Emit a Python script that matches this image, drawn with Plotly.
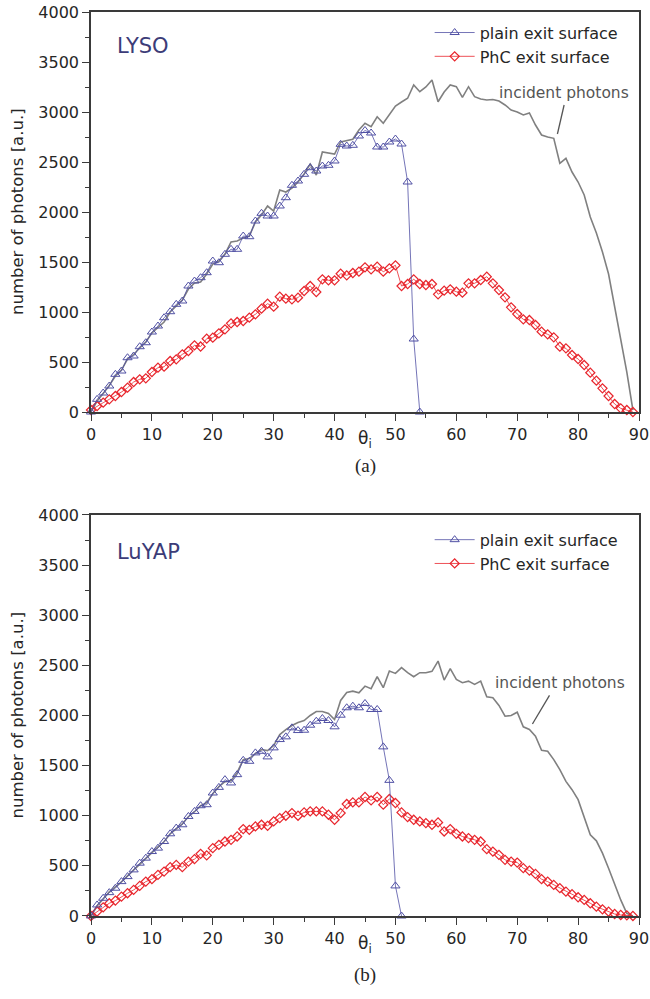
import plotly.graph_objects as go

# ---------------- data ----------------
theta_all = list(range(0, 90))

# (a) LYSO
lyso_incident = [0, 110, 185, 265, 360, 420, 530, 575, 640, 700,
                 790, 850, 900, 1000, 1065, 1120, 1230, 1290, 1300, 1380,
                 1480, 1510, 1580, 1700, 1710, 1740, 1760, 1900, 1970, 2060,
                 2010, 2220, 2200, 2240, 2300, 2380, 2480, 2370, 2600, 2590,
                 2580, 2700, 2710, 2727, 2820, 2887, 2853, 2953, 2887, 2980,
                 3060, 3100, 3137, 3270, 3203, 3250, 3320, 3103, 3200, 3270,
                 3253, 3147, 3253, 3153, 3130, 3120, 3125, 3110, 3070, 3020,
                 3000, 2970, 2990, 2870, 2770, 2750, 2737, 2487, 2537, 2400,
                 2300, 2170, 1950, 1790, 1600, 1380, 1050, 760, 400, 20]
lyso_plain_theta = list(range(0, 55))
lyso_plain = [0, 127, 190, 260, 377, 410, 543, 560, 653, 693,
              800, 860, 943, 1003, 1077, 1110, 1260, 1310, 1343, 1393,
              1510, 1493, 1577, 1627, 1627, 1760, 1753, 1910, 1987, 1960,
              1960, 2060, 2143, 2267, 2310, 2377, 2443, 2410, 2460, 2467,
              2510, 2677, 2660, 2667, 2760, 2815, 2790, 2650, 2650, 2700,
              2730, 2680, 2300, 730, 0]
lyso_phc = [20, 60, 93, 127, 160, 200, 243, 300, 327, 337,
            400, 443, 453, 510, 527, 577, 610, 667, 655, 733,
            743, 787, 827, 887, 900, 910, 943, 977, 1033, 1083,
            1053, 1153, 1133, 1127, 1143, 1210, 1260, 1200, 1327, 1317,
            1317, 1383, 1367, 1390, 1403, 1447, 1427, 1453, 1403, 1437,
            1467, 1260, 1280, 1327, 1280, 1270, 1280, 1177, 1213, 1227,
            1203, 1193, 1287, 1287, 1320, 1353, 1287, 1220, 1147, 1047,
            980, 927, 920, 870, 803, 777, 747, 653, 637, 570,
            530, 470, 393, 313, 237, 160, 80, 37, 20, 0]

# (b) LuYAP
luyap_incident = [0, 100, 170, 240, 290, 340, 400, 460, 520, 580,
                  640, 690, 740, 820, 870, 920, 990, 1040, 1100, 1130,
                  1220, 1290, 1340, 1350, 1430, 1560, 1570, 1620, 1660, 1650,
                  1700, 1810, 1860, 1900, 1930, 1950, 2000, 2040, 2040, 2020,
                  1960, 2150, 2230, 2243, 2227, 2293, 2267, 2387, 2277, 2443,
                  2420, 2477, 2427, 2387, 2427, 2427, 2440, 2543, 2353, 2467,
                  2360, 2327, 2343, 2310, 2343, 2187, 2177, 2100, 1993, 2000,
                  2033, 1887, 1860, 1793, 1653, 1643, 1560, 1460, 1343, 1260,
                  1160, 993, 810, 750, 627, 477, 310, 160, 27, 0]
luyap_plain_theta = list(range(0, 52))
luyap_plain = [0, 110, 177, 233, 277, 343, 393, 460, 527, 577,
               643, 677, 743, 820, 877, 910, 993, 1043, 1100, 1110,
               1227, 1283, 1360, 1327, 1410, 1553, 1543, 1627, 1643, 1587,
               1677, 1760, 1787, 1877, 1850, 1853, 1903, 1943, 1970, 1950,
               1887, 2003, 2077, 2093, 2077, 2120, 2060, 2060, 1687, 1353,
               300, 0]
luyap_phc = [0, 43, 87, 127, 153, 193, 227, 260, 300, 343,
             367, 410, 443, 487, 510, 487, 543, 567, 620, 605,
             677, 710, 743, 760, 793, 867, 860, 893, 910, 900,
             943, 977, 1000, 1027, 1000, 1033, 1043, 1043, 1043, 1010,
             960, 1027, 1117, 1133, 1133, 1187, 1153, 1187, 1110, 1167,
             1127, 1033, 987, 960, 943, 927, 910, 933, 843, 867,
             820, 793, 777, 760, 743, 667, 643, 610, 560, 543,
             533, 477, 453, 420, 367, 343, 310, 277, 243, 217,
             187, 160, 127, 93, 67, 43, 20, 10, 7, 0]

x_ticks = [0, 10, 20, 30, 40, 50, 60, 70, 80, 90]
y_ticks = [0, 500, 1000, 1500, 2000, 2500, 3000, 3500, 4000]

# ---------------- styling ----------------
GRAY = "#808080"
BLUE = "#5050a4"
RED = "#e8262d"
AXC = "#3a3a3a"
TXT = "#262626"
FONT = "DejaVu Sans"

fig = go.Figure()

panels = [
    dict(xa="x", ya="y", leg="legend", inc=lyso_incident, pth=lyso_plain_theta,
         pl=lyso_plain, phc=lyso_phc),
    dict(xa="x2", ya="y2", leg="legend2", inc=luyap_incident, pth=luyap_plain_theta,
         pl=luyap_plain, phc=luyap_phc),
]

for p in panels:
    fig.add_trace(go.Scatter(x=theta_all, y=p["inc"], mode="lines",
                             line=dict(color=GRAY, width=1.6),
                             showlegend=False, xaxis=p["xa"], yaxis=p["ya"],
                             cliponaxis=False))
    fig.add_trace(go.Scatter(x=theta_all, y=p["phc"], mode="lines+markers",
                             name="PhC exit surface", legend=p["leg"], legendrank=2,
                             line=dict(color=RED, width=0.8),
                             marker=dict(symbol="diamond-open", size=7,
                                         color=RED, line=dict(width=1.2, color=RED)),
                             xaxis=p["xa"], yaxis=p["ya"], cliponaxis=False))
    fig.add_trace(go.Scatter(x=p["pth"], y=p["pl"], mode="lines+markers",
                             name="plain exit surface", legend=p["leg"], legendrank=1,
                             line=dict(color=BLUE, width=0.8),
                             marker=dict(symbol="triangle-up-open", size=8,
                                         color=BLUE, line=dict(width=1.0, color=BLUE)),
                             xaxis=p["xa"], yaxis=p["ya"], cliponaxis=False))

top_dom = [0.5575, 1.0]
bot_dom = [0.0, 0.4436]

def xax(anchor):
    return dict(range=[0, 90], tickmode="array", tickvals=x_ticks,
                ticks="outside", ticklen=7, tickwidth=1.3, tickcolor=AXC,
                minor=dict(dtick=5, tick0=0, ticks="outside", ticklen=4,
                           tickwidth=1.2, tickcolor=AXC, showgrid=False),
                showline=True, linecolor=AXC, linewidth=1.5, mirror=True,
                showgrid=False, zeroline=False, anchor=anchor, automargin=False,
                tickfont=dict(family=FONT, size=16, color=TXT))

def yax(anchor, domain):
    return dict(range=[0, 4000], tickmode="array", tickvals=y_ticks,
                ticks="outside", ticklen=7, tickwidth=1.3, tickcolor=AXC,
                minor=dict(dtick=250, tick0=0, ticks="outside", ticklen=4,
                           tickwidth=1.2, tickcolor=AXC, showgrid=False),
                showline=True, linecolor=AXC, linewidth=1.5, mirror=True,
                showgrid=False, zeroline=False, anchor=anchor, domain=domain,
                automargin=False,
                tickfont=dict(family=FONT, size=16, color=TXT))

def xtop(over, anchor):
    return dict(range=[0, 90], overlaying=over, side="top", anchor=anchor,
                tickmode="array", tickvals=x_ticks, ticks="inside", ticklen=7,
                tickwidth=1.3, tickcolor=AXC, showticklabels=False,
                minor=dict(dtick=5, tick0=0, ticks="inside", ticklen=4,
                           tickwidth=1.2, tickcolor=AXC, showgrid=False),
                showline=False, showgrid=False, zeroline=False, automargin=False)

def yright(over, anchor):
    return dict(range=[0, 4000], overlaying=over, side="right", anchor=anchor,
                tickmode="array", tickvals=y_ticks, ticks="inside", ticklen=7,
                tickwidth=1.3, tickcolor=AXC, showticklabels=False,
                minor=dict(dtick=250, tick0=0, ticks="inside", ticklen=4,
                           tickwidth=1.2, tickcolor=AXC, showgrid=False),
                showline=False, showgrid=False, zeroline=False, automargin=False)

legend_common = dict(font=dict(family=FONT, size=16, color=TXT),
                     bgcolor="rgba(0,0,0,0)", borderwidth=0,
                     xanchor="right", yanchor="top", tracegroupgap=0,
                     itemwidth=40)

fig.update_layout(
    width=650, height=999,
    margin=dict(l=91, r=11, t=12, b=83, autoexpand=False),
    paper_bgcolor="white", plot_bgcolor="white",
    xaxis=xax("y"),
    yaxis=yax("x", top_dom),
    xaxis2=xax("y2"),
    yaxis2=yax("x2", bot_dom),
    xaxis3=xtop("x", "y"),
    yaxis3=yright("y", "x"),
    xaxis4=xtop("x2", "y2"),
    yaxis4=yright("y2", "x2"),
    legend=dict(x=0.972, y=0.996, **legend_common),
    legend2=dict(x=0.972, y=0.435, **legend_common),
    showlegend=True,
)

# panel labels
fig.add_annotation(text="LYSO", xref="x domain", yref="y domain", x=0.044, y=0.915,
                   xanchor="left", yanchor="middle", showarrow=False,
                   font=dict(family=FONT, size=21, color="#3c3c78"))
fig.add_annotation(text="LuYAP", xref="x2 domain", yref="y2 domain", x=0.044, y=0.907,
                   xanchor="left", yanchor="middle", showarrow=False,
                   font=dict(family=FONT, size=21, color="#3c3c78"))

# y titles
for yref in ["y domain", "y2 domain"]:
    fig.add_annotation(text="number of photons [a.u.]", xref="paper", yref=yref,
                       x=-0.135, y=0.5, xanchor="center", yanchor="middle",
                       textangle=-90, showarrow=False,
                       font=dict(family=FONT, size=16.5, color=TXT))

# x titles and sub-figure labels (pixel rows converted to paper coords)
def py(pix):
    return (916 - pix) / 904.0

for ty, ly, lab in [(440, 466, "(a)"), (944, 975, "(b)")]:
    fig.add_annotation(text="θ<sub>i</sub>", xref="paper", yref="paper",
                       x=0.5, y=py(ty), xanchor="center", yanchor="middle",
                       showarrow=False, font=dict(family=FONT, size=17, color=TXT))
    fig.add_annotation(text=lab, xref="paper", yref="paper",
                       x=0.5, y=py(ly), xanchor="center", yanchor="middle",
                       showarrow=False,
                       font=dict(family="Liberation Serif", size=19, color=TXT))

# incident photons labels with leader lines
fig.add_annotation(text="incident photons", xref="x", yref="y", x=77.7, y=3190,
                   xanchor="center", yanchor="middle", showarrow=False,
                   font=dict(family=FONT, size=15.5, color="#555555"))
fig.add_shape(type="line", xref="x", yref="y", x0=77.7, y0=3070, x1=76.6, y1=2780,
              line=dict(color="#555555", width=1.3))
fig.add_annotation(text="incident photons", xref="x2", yref="y2", x=77.0, y=2320,
                   xanchor="center", yanchor="middle", showarrow=False,
                   font=dict(family=FONT, size=15.5, color="#555555"))
fig.add_shape(type="line", xref="x2", yref="y2", x0=75.3, y0=2200, x1=72.5, y1=1915,
              line=dict(color="#555555", width=1.3))

# remove the browser's default 8px body margin so the figure fills the window
fig.write_html("out.html", config={"displayModeBar": False},
               post_script="document.body.style.margin='0px';")
